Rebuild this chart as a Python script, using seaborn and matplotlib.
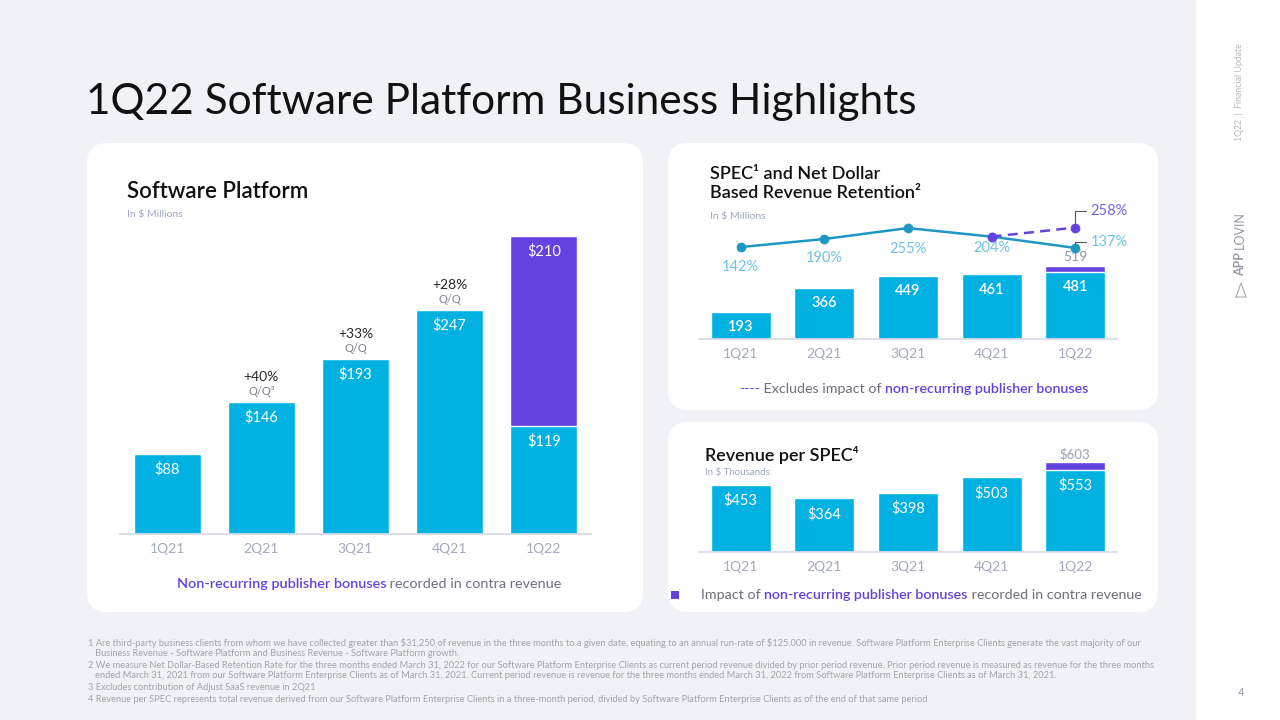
import numpy as np
import matplotlib.pyplot as plt
import seaborn as sns
from matplotlib.patches import FancyBboxPatch, Rectangle

quarters = ['1Q21', '2Q21', '3Q21', '4Q21', '1Q22']

# Software Platform revenue ($M); bonus part is stacked on top
sp_revenue = [88, 146, 193, 247, 119]
sp_bonus = [0, 0, 0, 0, 210]
sp_growth = ['', '+40%', '+33%', '+28%', '']
sp_growth_note = ['', 'Q/Q³', 'Q/Q', 'Q/Q', '']

# SPEC count + net dollar based revenue retention (%)
spec_clients = [193, 366, 449, 461, 481]
spec_bonus = [0, 0, 0, 0, 38]
ndr = [142, 190, 255, 204, 137]
ndr_excl_quarters = ['4Q21', '1Q22']
ndr_excl = [204, 258]

# revenue per SPEC ($K)
rev_per_spec = [453, 364, 398, 503, 553]
rps_bonus = [0, 0, 0, 0, 50]

footnotes = [
    "1 Are third-party business clients from whom we have collected greater than \\$31,250 of revenue in the three months to a given date, equating to an annual run-rate of \\$125,000 in revenue. Software Platform Enterprise Clients generate the vast majority of our",
    "   Business Revenue - Software Platform and Business Revenue - Software Platform growth.",
    "2 We measure Net Dollar-Based Retention Rate for the three months ended March 31, 2022 for our Software Platform Enterprise Clients as current period revenue divided by prior period revenue. Prior period revenue is measured as revenue for the three months",
    "   ended March 31, 2021 from our Software Platform Enterprise Clients as of March 31, 2021. Current period revenue is revenue for the three months ended March 31, 2022 from Software Platform Enterprise Clients as of March 31, 2021.",
    "3 Excludes contribution of Adjust SaaS revenue in 2Q21",
    "4 Revenue per SPEC represents total revenue derived from our Software Platform Enterprise Clients in a three-month period, divided by Software Platform Enterprise Clients as of the end of that same period",
]

CYAN = '#00B1E1'
PURPLE = '#6442DF'
TEAL = '#1E98C2'
LBLUE = '#6EC3E4'
GRAY = '#A4AABB'
TXT = '#6E6E7E'
SUB = '#A0A8C0'
BG = '#F0F2F8'
LINE = '#D6DBE7'

sns.set_theme(style='white')
plt.rcParams['font.family'] = ['Lato', 'DejaVu Sans']

fig = plt.figure(figsize=(12.8, 7.2), dpi=100)
fig.patch.set_facecolor(BG)

# background layer in pixel coords
bg = fig.add_axes([0, 0, 1, 1])
bg.set_xlim(0, 1280)
bg.set_ylim(720, 0)
bg.axis('off')

for x, y, w, h in [(87, 143, 556, 469), (668, 143, 490, 267), (668, 422, 490, 190)]:
    bg.add_patch(FancyBboxPatch((x, y), w, h, boxstyle='round,pad=0,rounding_size=20',
                                fc='white', ec='none'))
bg.add_patch(Rectangle((1196, 0), 84, 720, fc='white', ec='none'))


def chain(x, y, parts, size):
    s, c, w = parts[0]
    t = bg.text(x, y, s, color=c, fontweight=w, fontsize=size, va='center')
    for s, c, w in parts[1:]:
        t = bg.annotate(s, xy=(1, 0), xycoords=t, xytext=(0, 0), textcoords='offset points',
                        ha='left', va='bottom', color=c, fontweight=w, fontsize=size)


bg.text(86, 102, '1Q22 Software Platform Business Highlights', fontsize=30.5,
        fontweight='normal', color='#111111', va='center')

bg.text(127, 191, 'Software Platform', fontsize=16, fontweight='semibold', color='#111111', va='center')
bg.text(127, 214, 'In \\$ Millions', fontsize=7.5, color=SUB, va='center')
bg.text(710, 174, 'SPEC¹ and Net Dollar', fontsize=13, fontweight='semibold', color='#111111', va='center')
bg.text(710, 193, 'Based Revenue Retention²', fontsize=13, fontweight='semibold', color='#111111', va='center')
bg.text(710, 216, 'In \\$ Millions', fontsize=7.5, color=SUB, va='center')
bg.text(705, 455, 'Revenue per SPEC⁴', fontsize=13, fontweight='semibold', color='#111111', va='center')
bg.text(705, 473, 'In \\$ Thousands', fontsize=7, color=SUB, va='center')

chain(177, 584, [('Non-recurring publisher bonuses', PURPLE, 'semibold'),
                 (' recorded in contra revenue', TXT, 'normal')], 10.4)
chain(739, 389, [('----', PURPLE, 'normal'), (' Excludes impact of ', TXT, 'normal'),
                 ('non-recurring publisher bonuses', PURPLE, 'semibold')], 10.3)
bg.add_patch(Rectangle((671, 591), 8, 8, fc=PURPLE, ec='none'))
chain(701, 595, [('Impact of ', TXT, 'normal'), ('non-recurring publisher bonuses', PURPLE, 'semibold'),
                 (' recorded in contra revenue', TXT, 'normal')], 10.25)

for k, line in enumerate(footnotes):
    yy = [643, 654, 665, 676, 688, 699][k]
    bg.text(88, yy, line, fontsize=6.7, color='#A2A2AE', va='center')

# side strip
bg.text(1240, 92, '1Q22  |  Financial Update', rotation=90, fontsize=6.3, color='#B8B8C0',
        ha='center', va='center')
bg.text(1240, 264, 'APP', rotation=90, fontsize=9, fontweight='bold', color='#9A9AA6',
        ha='center', va='center')
bg.text(1240, 230, 'LOVIN', rotation=90, fontsize=9, color='#9A9AA6', ha='center', va='center')
bg.plot([1236, 1246, 1241, 1236], [297, 297, 283, 297], color='#A8A8B2', lw=0.8)
bg.text(1241, 693, '4', fontsize=8, color='#9A9AA6', ha='center', va='center')


def px_axes(l, t, r, b):
    return fig.add_axes([l / 1280, 1 - b / 720, (r - l) / 1280, (b - t) / 720])


def style_axis(ax):
    ax.set_facecolor('none')
    for s in ['left', 'right', 'top']:
        ax.spines[s].set_visible(False)
    ax.spines['bottom'].set_color(LINE)
    ax.set_xlim(-0.5, 4.5)
    ax.set_yticks([])
    ax.set_xlabel('')
    ax.set_ylabel('')
    ax.set_xticks(np.arange(-0.5, 5, 1), minor=True)
    ax.tick_params(axis='x', which='major', length=0, labelsize=10, labelcolor=GRAY, pad=6.5)
    ax.tick_params(axis='x', which='minor', length=4, width=1, color=LINE)


# --- Software Platform
axL = px_axes(120, 217, 591, 534)
sns.barplot(x=quarters, y=np.add(sp_revenue, sp_bonus), color=PURPLE, width=0.71, saturation=1, ax=axL)
sns.barplot(x=quarters, y=sp_revenue, color=CYAN, width=0.71, saturation=1, ax=axL)
axL.set_ylim(0, 350)
style_axis(axL)
for i, (v, b) in enumerate(zip(sp_revenue, sp_bonus)):
    axL.annotate(f'\\${v}', (i, v), xytext=(0, -11), textcoords='offset points', ha='center',
                 va='center', color='white', fontsize=10.5)
    if b:
        axL.annotate(f'\\${b}', (i, v + b), xytext=(0, -11), textcoords='offset points',
                     ha='center', va='center', color='white', fontsize=10.5)
    if sp_growth[i]:
        axL.annotate(sp_growth[i], (i, v + b), xytext=(0, 18), textcoords='offset points',
                     ha='center', va='center', color='#2A2A2A', fontsize=10)
        axL.annotate(sp_growth_note[i], (i, v + b), xytext=(0, 7.5), textcoords='offset points',
                     ha='center', va='center', color='#80808C', fontsize=8)

# --- SPEC + NDR
axS = px_axes(699, 200, 1117, 339)
sns.barplot(x=quarters, y=np.add(spec_clients, spec_bonus), color=PURPLE, width=0.72, saturation=1, ax=axS)
sns.barplot(x=quarters, y=spec_clients, color=CYAN, width=0.72, saturation=1, ax=axS)
axS.set_ylim(0, 993)
style_axis(axS)
for i, (v, b) in enumerate(zip(spec_clients, spec_bonus)):
    axS.annotate(f'{v}', (i, v), xytext=(0, -11), textcoords='offset points', ha='center',
                 va='center', color='white', fontsize=10.5, fontweight='semibold')
    if b:
        axS.annotate(f'{v + b}', (i, v + b), xytext=(0, 6.5), textcoords='offset points',
                     ha='center', va='center', color='#8F96A8', fontsize=10)

axN = axS.twinx()
sns.lineplot(x=quarters, y=ndr, ax=axN, color=TEAL, lw=1.8, marker='o', markersize=7,
             markeredgewidth=0, sort=False)
sns.lineplot(x=ndr_excl_quarters, y=ndr_excl, ax=axN, color=PURPLE, lw=1.8, linestyle=(0, (4, 2.5)),
             marker='o', markersize=7, markeredgewidth=0, sort=False)
axN.set_ylim(-405, 422)
axN.set_xlim(-0.5, 4.5)
axN.axis('off')
label_drop = [14, 14, 15, 8]
for i, v in enumerate(ndr[:4]):
    axN.annotate(f'{v}%', (i, v), xytext=(0, -label_drop[i]), textcoords='offset points',
                 ha='center', va='center', color=LBLUE, fontsize=10.5)
leader = dict(arrowstyle='-', color='#555560', lw=0.8, shrinkA=1, shrinkB=3,
              connectionstyle='angle,angleA=0,angleB=90,rad=0', relpos=(0, 0.5))
axN.annotate(f'{ndr[4]}%', (4, ndr[4]), xytext=(11, 4.5), textcoords='offset points',
             ha='left', va='center', color=LBLUE, fontsize=10.5, arrowprops=leader)
axN.annotate(f'{ndr_excl[1]}%', (4, ndr_excl[1]), xytext=(11, 12), textcoords='offset points',
             ha='left', va='center', color='#7A62DB', fontsize=10.5, arrowprops=leader)

# --- Revenue per SPEC
axR = px_axes(699, 440, 1117, 552)
sns.barplot(x=quarters, y=np.add(rev_per_spec, rps_bonus), color=PURPLE, width=0.72, saturation=1, ax=axR)
sns.barplot(x=quarters, y=rev_per_spec, color=CYAN, width=0.72, saturation=1, ax=axR)
axR.set_ylim(0, 752)
style_axis(axR)
for i, (v, b) in enumerate(zip(rev_per_spec, rps_bonus)):
    axR.annotate(f'\\${v}', (i, v), xytext=(0, -11.5), textcoords='offset points', ha='center',
                 va='center', color='white', fontsize=10.5)
    if b:
        axR.annotate(f'\\${v + b}', (i, v + b), xytext=(0, 5.5), textcoords='offset points',
                     ha='center', va='center', color='#9A9FB0', fontsize=9.5)

fig.savefig('out.png', dpi=100, facecolor=BG)
